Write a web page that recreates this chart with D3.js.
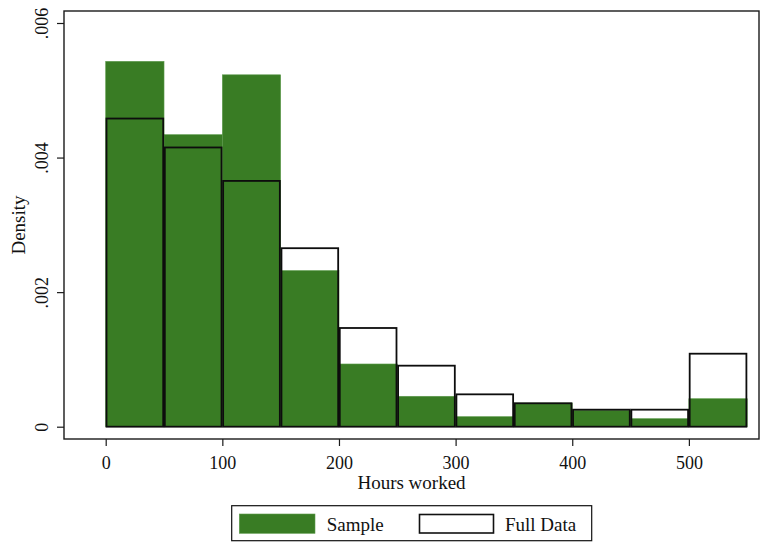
<!DOCTYPE html>
<html>
<head>
<meta charset="utf-8">
<script src="https://cdn.jsdelivr.net/npm/d3@7"></script>
<style>
  html, body { margin: 0; padding: 0; background: #fff; }
  svg { display: block; font-family: "Liberation Serif", "Times New Roman", serif; }
</style>
</head>
<body>
<svg id="chart" width="766" height="543"></svg>
<script>
// Bin edges (hours worked), bin width 50
const binStarts = [0, 50, 100, 150, 200, 250, 300, 350, 400, 450, 500];
const binWidth = 50;
// Density of the sample (green filled bars)
const sampleDensity = [0.00543, 0.00434, 0.00523, 0.00232, 0.000932, 0.000452, 0.000149, 0.000352, 0.000244, 0.000119, 0.000416];
// Density of the full data (outlined bars)
const fullDensity = [0.00458, 0.00415, 0.003653, 0.002653, 0.001467, 0.000907, 0.000481, 0.000348, 0.000253, 0.000253, 0.001085];
// Tick labels
const xTicks = [0, 100, 200, 300, 400, 500];
const yTicks = [0, 0.002, 0.004, 0.006];
const yTickLabels = ["0", ".002", ".004", ".006"];
const xTitle = "Hours worked";
const yTitle = "Density";
const legendLabels = ["Sample", "Full Data"];

const green = "#397c24";
const svg = d3.select("#chart");

const plot = { left: 64, right: 759, top: 11, bottom: 439 };
const x = d3.scaleLinear().domain([0, 550]).range([105.7, 747.2]);
const y = d3.scaleLinear().domain([0, 0.006]).range([426.7, 23]);

// Plot region frame
svg.append("rect")
  .attr("x", plot.left).attr("y", plot.top)
  .attr("width", plot.right - plot.left).attr("height", plot.bottom - plot.top)
  .attr("fill", "none").attr("stroke", "#1a1a1a").attr("stroke-width", 1.4);

// Sample bars (green)
svg.append("g").selectAll("rect").data(binStarts).join("rect")
  .attr("x", (d) => x(d))
  .attr("y", (d, i) => y(sampleDensity[i]))
  .attr("width", x(binWidth) - x(0))
  .attr("height", (d, i) => y(0) - y(sampleDensity[i]))
  .attr("fill", green)
  .attr("stroke", "#5c9a4b").attr("stroke-width", 0.6);

// Full data bars (outline)
svg.append("g").selectAll("rect").data(binStarts).join("rect")
  .attr("x", (d) => x(d) + 0.8)
  .attr("y", (d, i) => y(fullDensity[i]))
  .attr("width", x(binWidth) - x(0) - 1.6)
  .attr("height", (d, i) => y(0) - y(fullDensity[i]))
  .attr("fill", "none")
  .attr("stroke", "#0d0d0d").attr("stroke-width", 1.8);

// X axis
const xAxis = d3.axisBottom(x).tickValues(xTicks).tickSize(7).tickPadding(9).tickFormat(d3.format("d"));
const gx = svg.append("g").attr("transform", `translate(0,${plot.bottom})`).call(xAxis);
gx.select(".domain").remove();
gx.selectAll(".tick line").attr("stroke", "#1a1a1a").attr("stroke-width", 1.2);
gx.selectAll(".tick text").attr("font-size", 18).attr("fill", "#111")
  .attr("font-family", "Liberation Serif, serif").attr("dy", "0.78em");

// Y axis
const yAxis = d3.axisLeft(y).tickValues(yTicks).tickSize(7).tickFormat((d, i) => yTickLabels[i]);
const gy = svg.append("g").attr("transform", `translate(${plot.left},0)`).call(yAxis);
gy.select(".domain").remove();
gy.selectAll(".tick line").attr("stroke", "#1a1a1a").attr("stroke-width", 1.2);
gy.selectAll(".tick text")
  .attr("x", null).attr("dy", null)
  .attr("transform", "translate(-16,0) rotate(-90)")
  .attr("text-anchor", "middle")
  .attr("font-size", 18).attr("fill", "#111")
  .attr("font-family", "Liberation Serif, serif");

// Axis titles
svg.append("text")
  .attr("x", (plot.left + plot.right) / 2).attr("y", 489)
  .attr("text-anchor", "middle").attr("font-size", 19).attr("fill", "#111")
  .text(xTitle);
svg.append("text")
  .attr("transform", `translate(25,${(plot.top + plot.bottom) / 2}) rotate(-90)`)
  .attr("text-anchor", "middle").attr("font-size", 19).attr("fill", "#111")
  .text(yTitle);

// Legend
const lg = svg.append("g");
lg.append("rect").attr("x", 231.7).attr("y", 505.7).attr("width", 360).attr("height", 35)
  .attr("fill", "#fff").attr("stroke", "#111").attr("stroke-width", 1.2);
lg.append("rect").attr("x", 239.3).attr("y", 514).attr("width", 75.7).attr("height", 19.3)
  .attr("fill", green).attr("stroke", "#5c9a4b").attr("stroke-width", 0.6);
lg.append("text").attr("x", 326.7).attr("y", 530.5).attr("font-size", 19).attr("fill", "#111").text(legendLabels[0]);
lg.append("rect").attr("x", 419.5).attr("y", 514.5).attr("width", 74).attr("height", 18.5)
  .attr("fill", "none").attr("stroke", "#111").attr("stroke-width", 1.6);
lg.append("text").attr("x", 505).attr("y", 530.5).attr("font-size", 19).attr("fill", "#111").text(legendLabels[1]);
</script>
</body>
</html>
